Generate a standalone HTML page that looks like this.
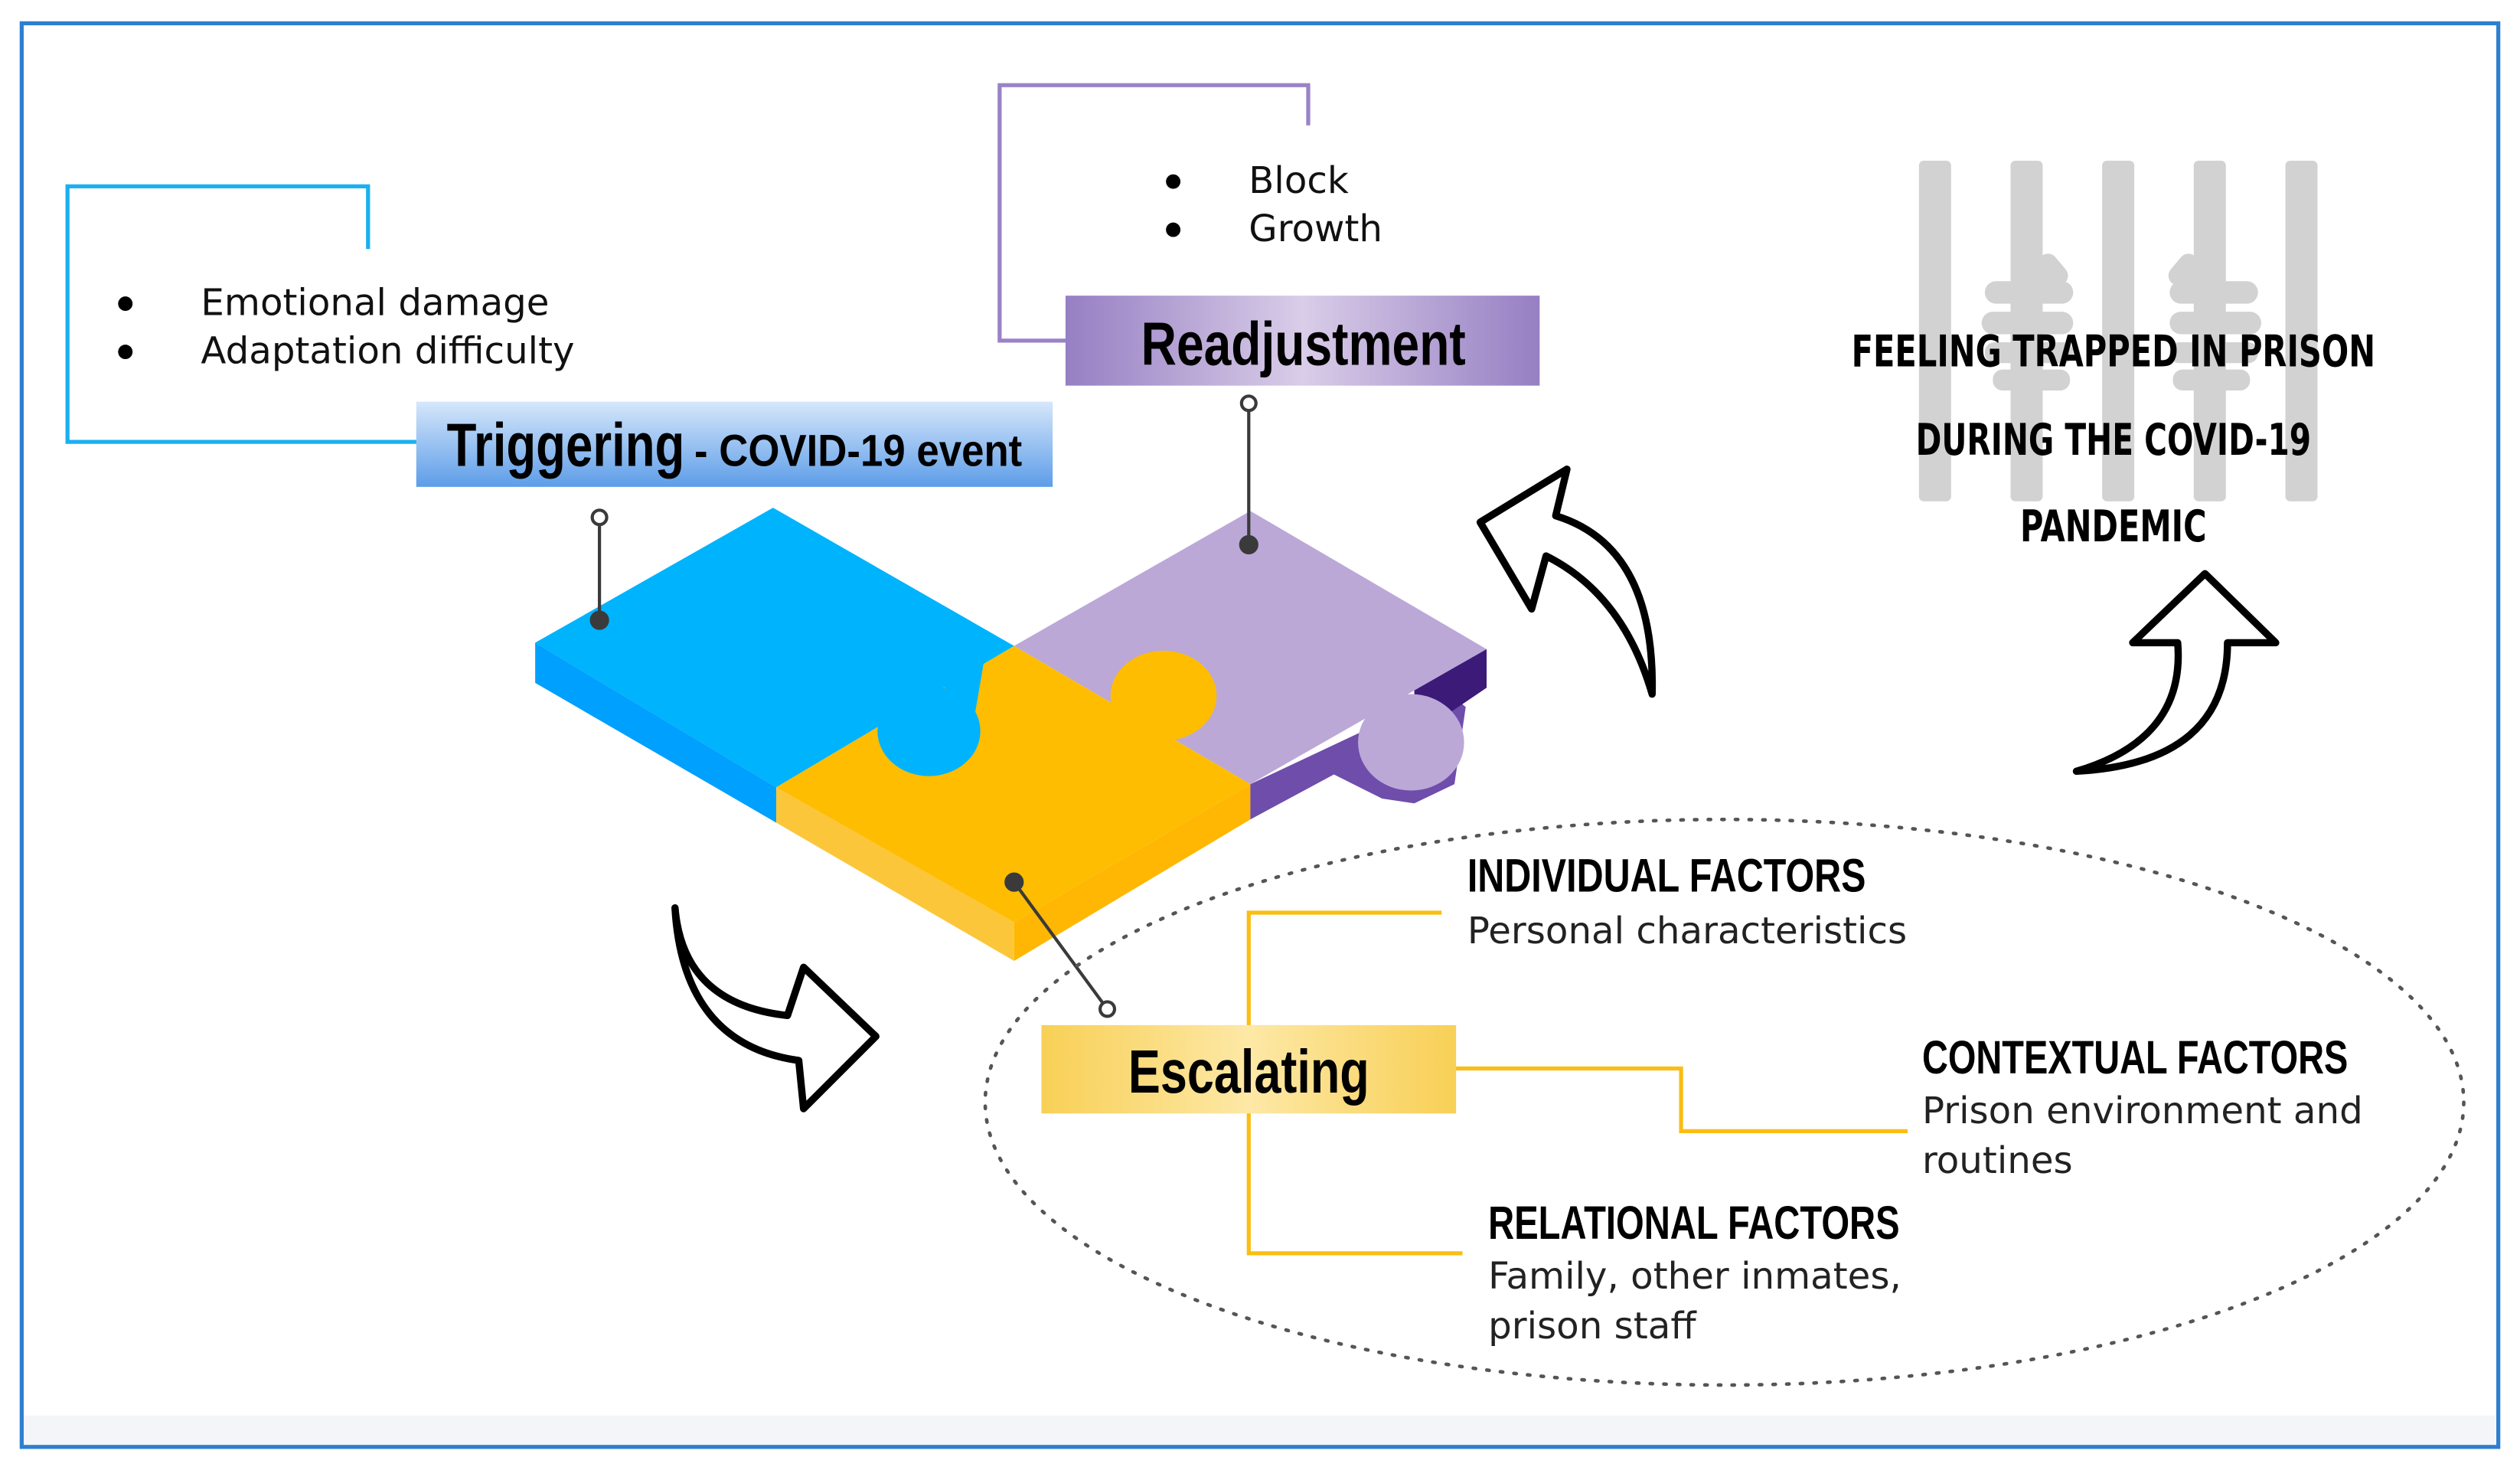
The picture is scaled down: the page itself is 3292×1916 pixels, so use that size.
<!DOCTYPE html>
<html><head><meta charset="utf-8"><style>
html,body{margin:0;padding:0;background:#fff;}
svg{display:block;}
text{font-family:"Liberation Sans Narrow","Liberation Sans",sans-serif;}
.b{font-family:"DejaVu Sans","Liberation Sans",sans-serif;}
</style></head><body>
<svg width="3292" height="1916" viewBox="0 0 1568 913" preserveAspectRatio="none" xmlns="http://www.w3.org/2000/svg">
<defs>
<linearGradient id="gb" x1="0" y1="0" x2="0" y2="1"><stop offset="0" stop-color="#d6e7fb"/><stop offset="1" stop-color="#5d9de8"/></linearGradient>
<linearGradient id="gp" x1="0" y1="0" x2="1" y2="0"><stop offset="0" stop-color="#967fc3"/><stop offset="0.5" stop-color="#d9cde8"/><stop offset="1" stop-color="#967fc3"/></linearGradient>
<linearGradient id="gy" x1="0" y1="0" x2="1" y2="0"><stop offset="0" stop-color="#f8d056"/><stop offset="0.5" stop-color="#fde8a6"/><stop offset="1" stop-color="#f8d056"/></linearGradient>
</defs>
<rect x="0" y="0" width="1568" height="913" fill="#fff"/>
<rect x="13" y="881" width="1540" height="19" fill="#f3f5f8"/>
<rect x="13.5" y="14.5" width="1541" height="886" fill="none" stroke="#2d7fd0" stroke-width="2.5"/>

<!-- bars -->
<g fill="#d2d2d2">
<rect x="1194" y="100" width="20" height="212" rx="3"/>
<rect x="1251" y="100" width="20" height="212" rx="3"/>
<rect x="1308" y="100" width="20" height="212" rx="3"/>
<rect x="1365" y="100" width="20" height="212" rx="3"/>
<rect x="1422" y="100" width="20" height="212" rx="3"/>
<rect x="1235" y="175" width="55" height="14" rx="7"/><rect x="1233" y="194" width="57" height="14" rx="7"/><rect x="1235" y="213" width="55" height="13" rx="6"/><rect x="1240" y="230" width="48" height="13" rx="6"/>
<rect x="1350" y="175" width="55" height="14" rx="7"/><rect x="1350" y="194" width="57" height="14" rx="7"/><rect x="1350" y="213" width="55" height="13" rx="6"/><rect x="1352" y="230" width="48" height="13" rx="6"/>
<rect x="1268" y="158" width="16" height="22" rx="6" transform="rotate(-40 1276 169)"/>
<rect x="1352" y="158" width="16" height="22" rx="6" transform="rotate(40 1360 169)"/>
</g>
<g font-weight="bold" font-size="27" text-anchor="middle" fill="#000" class="b">
<text x="1315" y="228" textLength="326" lengthAdjust="spacingAndGlyphs" class="b">FEELING TRAPPED  IN PRISON</text>
<text x="1315" y="283" textLength="246" lengthAdjust="spacingAndGlyphs" class="b">DURING THE COVID-19</text>
<text x="1315" y="337" textLength="116" lengthAdjust="spacingAndGlyphs" class="b">PANDEMIC</text>
</g>

<!-- brackets -->
<polyline points="229,155 229,116 42,116 42,275 260,275" fill="none" stroke="#1ab0f0" stroke-width="2.5"/>
<polyline points="814,78 814,53 622,53 622,212 664,212" fill="none" stroke="#9a82c8" stroke-width="2.5"/>

<!-- bullets -->
<g fill="#000"><circle cx="78" cy="189" r="4.5"/><circle cx="78" cy="219" r="4.5"/><circle cx="730" cy="113" r="4.5"/><circle cx="730" cy="143" r="4.5"/></g>
<g font-size="23" fill="#111" class="b">
<text x="125" y="196" class="b">Emotional damage</text>
<text x="125" y="226" class="b">Adaptation difficulty</text>
<text x="777" y="120" class="b">Block</text>
<text x="777" y="150" class="b">Growth</text>
</g>

<!-- label boxes -->
<rect x="259" y="250" width="396" height="53" fill="url(#gb)"/>
<text x="278" y="290" font-size="38" font-weight="bold" textLength="148" lengthAdjust="spacingAndGlyphs">Triggering</text>
<text x="432" y="290" font-size="28" font-weight="bold" textLength="204" lengthAdjust="spacingAndGlyphs">- COVID-19 event</text>
<rect x="663" y="184" width="295" height="56" fill="url(#gp)"/>
<text x="710" y="227" font-size="38" font-weight="bold" textLength="202" lengthAdjust="spacingAndGlyphs">Readjustment</text>

<!-- puzzle -->
<polygon points="333,400 333,425 483,512 483,490" fill="#00a0fe"/>
<polygon points="483,490 483,512 631,598 631,574" fill="#fcc63a"/>
<polygon points="631,574 631,598 778,510 778,488" fill="#ffb703"/>
<polygon points="778,488 778,510 830,482 860,497 880,500 905,488 912,440 900,430 880,440" fill="#6f4dab"/>
<polygon points="880,420 925,404 925,428 900,445 880,435" fill="#3c1a78"/>
<polygon points="333,400 481,316 631,402 483,490" fill="#00b3fd"/>
<polygon points="631,402 778,318 925,404 778,488" fill="#bba8d7"/>
<ellipse cx="878" cy="462" rx="33" ry="30" fill="#bba8d7"/>
<polygon points="631,402 778,488 631,574 483,490" fill="#febd00"/>
<polygon points="692,438 716,452 724,438 700,424" fill="#febd00"/>
<ellipse cx="724" cy="433" rx="33" ry="28" fill="#febd00"/>
<polygon points="588,425 612,413 606,448 586,448" fill="#00b3fd"/>
<ellipse cx="578" cy="455" rx="32" ry="28" fill="#00b3fd"/>

<!-- pins -->
<g stroke="#3a3a3a" stroke-width="2" fill="#3a3a3a">
<line x1="373" y1="327" x2="373" y2="386"/><circle cx="373" cy="386" r="5"/><circle cx="373" cy="322" r="4.5" fill="#fff"/>
<line x1="777" y1="256" x2="777" y2="339"/><circle cx="777" cy="339" r="5"/><circle cx="777" cy="251" r="4.5" fill="#fff"/>
<line x1="631" y1="549" x2="686" y2="624"/><circle cx="631" cy="549" r="5"/><circle cx="689" cy="628" r="4.5" fill="#fff"/>
</g>

<!-- dotted ellipse -->
<ellipse cx="1073" cy="686" rx="460" ry="176" fill="none" stroke="#555" stroke-width="2.2" stroke-dasharray="1.5 7" stroke-linecap="round"/>

<!-- escalating -->
<polyline points="897,568 777,568 777,780 910,780" fill="none" stroke="#fbbd14" stroke-width="2.5"/>
<polyline points="905,665 1046,665 1046,704 1187,704" fill="none" stroke="#fbbd14" stroke-width="2.5"/>
<rect x="648" y="638" width="258" height="55" fill="url(#gy)"/>
<text x="777" y="680" font-size="38" font-weight="bold" text-anchor="middle" textLength="150" lengthAdjust="spacingAndGlyphs">Escalating</text>

<g font-weight="bold" font-size="29">
<text x="913" y="555" textLength="248" lengthAdjust="spacingAndGlyphs">INDIVIDUAL FACTORS</text>
<text x="1196" y="668" textLength="265" lengthAdjust="spacingAndGlyphs">CONTEXTUAL FACTORS</text>
<text x="926" y="771" textLength="256" lengthAdjust="spacingAndGlyphs">RELATIONAL FACTORS</text>
</g>
<g font-size="23" fill="#222" class="b">
<text x="913" y="587" class="b">Personal characteristics</text>
<text x="1196" y="699" class="b">Prison environment and</text>
<text x="1196" y="730" class="b">routines</text>
<text x="926" y="802" class="b">Family, other inmates,</text>
<text x="926" y="833" class="b">prison staff</text>
</g>

<!-- arrows -->
<g fill="#fff" stroke="#000" stroke-width="4.5" stroke-linejoin="round">
<path d="M921,325 L975,292 L968,321 Q1030,340 1028,432 Q1010,370 962,346 L953,379 Z"/>
<path d="M420,565 Q425,625 490,632 L500,602 L545,645 L500,690 L497,660 Q425,650 420,565 Z"/>
<path d="M1372,357 L1416,400 L1386,400 Q1386,475 1292,480 Q1360,460 1355,400 L1327,400 Z"/>
</g>
</svg>
</body></html>
